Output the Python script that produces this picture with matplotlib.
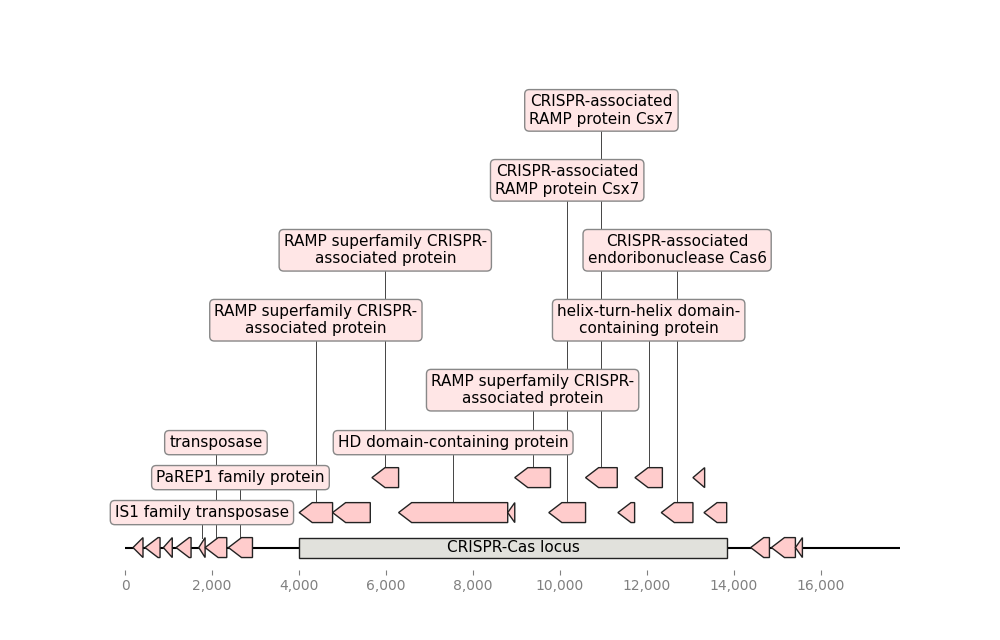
import matplotlib
matplotlib.use("Agg")
import matplotlib.pyplot as plt
import matplotlib.patches as patches
from matplotlib.ticker import FuncFormatter

# === DATA ===
SEQ_LENGTH = 17820

gene_starts = [184, 460, 882, 1174, 1696, 1842, 2379, 14387, 14863, 15415,
               4005, 4773, 6291, 8800, 9745, 11334, 12331, 13313,
               5678, 8962, 10590, 11726, 13059]
gene_ends = [414, 806, 1087, 1519, 1842, 2340, 2931, 14818, 15415, 15576,
             4773, 5640, 8800, 8962, 10590, 11718, 13059, 13835,
             6291, 9783, 11319, 12356, 13328]
gene_levels = [0, 0, 0, 0, 0, 0, 0, 0, 0, 0,
               1, 1, 1, 1, 1, 1, 1, 1,
               2, 2, 2, 2, 2]
gene_labels = [None, None, None, None, "IS1 family transposase", "transposase",
               "PaREP1 family protein", None, None, None,
               "RAMP superfamily CRISPR-\nassociated protein", None,
               "HD domain-containing protein", None,
               "CRISPR-associated\nRAMP protein Csx7", None,
               "CRISPR-associated\nendoribonuclease Cas6", None,
               "RAMP superfamily CRISPR-\nassociated protein",
               "RAMP superfamily CRISPR-\nassociated protein",
               "CRISPR-associated\nRAMP protein Csx7",
               "helix-turn-helix domain-\ncontaining protein", None]
label_levels = [None, None, None, None, 1, 3, 2, None, None, None,
                6.5, None, 3, None, 10.5, None, 8.5, None,
                8.5, 4.5, 12.5, 6.5, None]

locus_start = 4000
locus_end = 13850
locus_label = "CRISPR-Cas locus"

tick_values = [0, 2000, 4000, 6000, 8000, 10000, 12000, 14000, 16000]

# === STYLE ===
GENE_COLOR = "#ffcccc"
BOX_COLOR = "#ffe6e6"
LOCUS_COLOR = "#e1e1dc"
THICK = 0.57
HEAD = 300


def arrow_points(start, end, y):
    half = THICK / 2
    head = min(HEAD, end - start)
    return [(start, y), (start + head, y + half), (end, y + half),
            (end, y - half), (start + head, y - half)]


fig, ax = plt.subplots(figsize=(10, 6.4), dpi=100)

# backbone
ax.plot([0, SEQ_LENGTH], [0, 0], color="black", lw=1.5, zorder=1)

# locus box
ax.add_patch(patches.Rectangle((locus_start, -THICK / 2), locus_end - locus_start, THICK,
                               facecolor=LOCUS_COLOR, edgecolor="#222222", lw=1, zorder=3))
ax.text((locus_start + locus_end) / 2, 0, locus_label, ha="center", va="center",
        fontsize=11, zorder=4)

for s, e, lv, lab, ll in zip(gene_starts, gene_ends, gene_levels, gene_labels, label_levels):
    ax.add_patch(patches.Polygon(arrow_points(s, e, lv), closed=True,
                                 facecolor=GENE_COLOR, edgecolor="#222222", lw=1, zorder=3))
    if lab is None:
        continue
    xc = (s + e) / 2
    ax.plot([xc, xc], [lv + THICK / 2, ll], color="#444444", lw=0.7, zorder=0)
    ax.text(xc, ll, lab, ha="center", va="center", multialignment="center",
            fontsize=11, zorder=5,
            bbox=dict(boxstyle="round,pad=0.3", fc=BOX_COLOR, ec="#888888", lw=1))

ax.set_xlim(0, SEQ_LENGTH)
ax.set_ylim(-0.63, 13.46)
ax.set_yticks([])
for sp in ax.spines.values():
    sp.set_visible(False)
ax.set_xticks(tick_values)
ax.xaxis.set_major_formatter(FuncFormatter(lambda v, p: f"{int(v):,}"))
ax.tick_params(axis="x", colors="#808080", labelsize=10)

fig.savefig("out.png", dpi=100)
